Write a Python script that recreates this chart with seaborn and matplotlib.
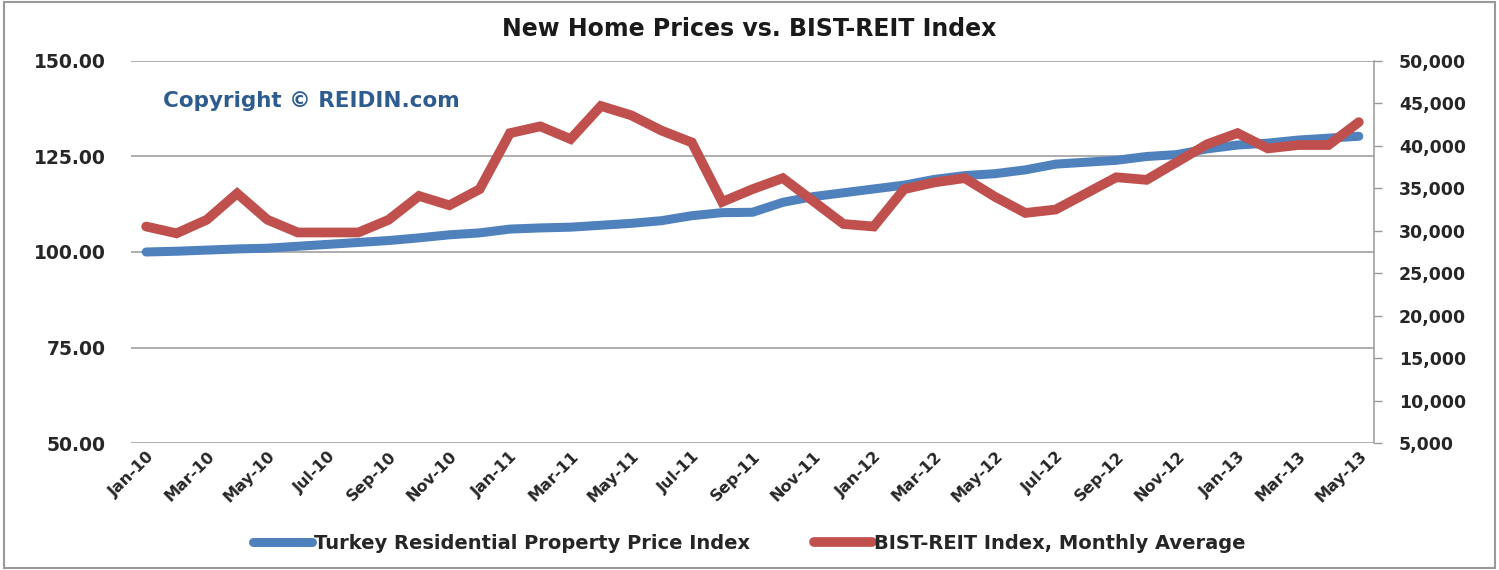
import matplotlib
matplotlib.use("Agg")
import matplotlib.pyplot as plt
import seaborn as sns
import pandas as pd
from matplotlib.patches import Rectangle

# monthly data, Jan-10 .. May-13
months = pd.date_range("2010-01-01", "2013-05-01", freq="MS").strftime("%b-%y").tolist()

home_index = [
    100.0, 100.2, 100.5, 100.8, 101.0, 101.5, 102.0, 102.5, 103.0, 103.7, 104.5, 105.0,
    106.0, 106.3, 106.5, 107.0, 107.5, 108.2, 109.5, 110.3, 110.4, 113.0, 114.5, 115.5,
    116.5, 117.5, 119.0, 120.0, 120.5, 121.5, 123.0, 123.5, 124.0, 125.0, 125.5, 127.0,
    128.0, 128.5, 129.3, 129.8, 130.3,
]

reit_index = [
    30500, 29700, 31300, 34400, 31300, 29800, 29800, 29800, 31300, 34100, 33000, 34900,
    41500, 42300, 40800, 44700, 43600, 41800, 40400, 33400, 34900, 36200, 33500, 30800,
    30500, 34900, 35700, 36200, 34000, 32100, 32500, 34400, 36300, 36000, 38100, 40200,
    41500, 39700, 40100, 40100, 42800,
]

left_ticks = [50, 75, 100, 125, 150]
right_ticks = list(range(5000, 50001, 5000))

df = pd.DataFrame({"pos": range(len(months)), "home": home_index, "reit": reit_index})

sns.set_style("white")
plt.rcParams["font.family"] = ["DejaVu Sans"]

blue = "#4F81BD"
red = "#C0504D"
grey = "#999999"

fig = plt.figure(figsize=(14.99, 5.70), dpi=100)
ax = fig.add_axes([0.0874, 0.2228, 0.8292, 0.6702])
ax2 = ax.twinx()

sns.lineplot(data=df, x="pos", y="home", ax=ax, color=blue, linewidth=6.5,
             solid_capstyle="round", label="Turkey Residential Property Price Index", legend=False)
sns.lineplot(data=df, x="pos", y="reit", ax=ax2, color=red, linewidth=7,
             solid_capstyle="round", solid_joinstyle="miter",
             label="BIST-REIT Index, Monthly Average", legend=False)

ax.set_xlim(-0.5, len(months) - 0.5)
ax.set_ylim(50, 150)
ax2.set_ylim(5000, 50000)
ax.set_yticks(left_ticks)
ax.set_yticklabels([f"{v:.2f}" for v in left_ticks], fontsize=13.5, fontweight="bold")
ax2.set_yticks(right_ticks)
ax2.set_yticklabels([f"{v:,}" for v in right_ticks], fontsize=12.5, fontweight="bold")
ax.set_xticks(df["pos"][::2])
ax.set_xticklabels(months[::2], rotation=45, ha="right", rotation_mode="anchor",
                   fontsize=11.5, fontweight="bold")
ax.set_xlabel("")
ax.set_ylabel("")
ax2.set_ylabel("")

ax.grid(axis="y", color=grey, linewidth=1.1)
ax.set_axisbelow(True)
for a in (ax, ax2):
    for s in ("top", "left", "bottom"):
        a.spines[s].set_visible(False)
ax.spines["right"].set_visible(False)
ax2.spines["right"].set_color(grey)
ax2.spines["right"].set_linewidth(1.1)
ax.tick_params(axis="y", length=0, pad=18)
ax.tick_params(axis="x", length=0, pad=4)
ax2.tick_params(axis="y", length=6, width=1.0, color=grey, direction="out", pad=12)

ax.text(0.026, 0.895, "Copyright \u00a9 REIDIN.com", transform=ax.transAxes,
        fontsize=15.5, fontweight="bold", color="#2E5C8F", va="center")

fig.text(0.5, 0.95, "New Home Prices vs. BIST-REIT Index", ha="center", va="center",
         fontsize=17, fontweight="bold", color="#1a1a1a")

h1, l1 = ax.get_legend_handles_labels()
h2, l2 = ax2.get_legend_handles_labels()
fig.legend(h1 + h2, l1 + l2, loc="center", bbox_to_anchor=(0.5, 0.047), ncol=2,
           frameon=False, prop={"size": 14, "weight": "bold"},
           handlelength=3.0, handletextpad=0.1, columnspacing=3.3)

fig.patches.append(Rectangle((0.003, 0.004), 0.994, 0.992, transform=fig.transFigure,
                             fill=False, edgecolor=grey, linewidth=1.5))

fig.savefig("out.png", dpi=100)
